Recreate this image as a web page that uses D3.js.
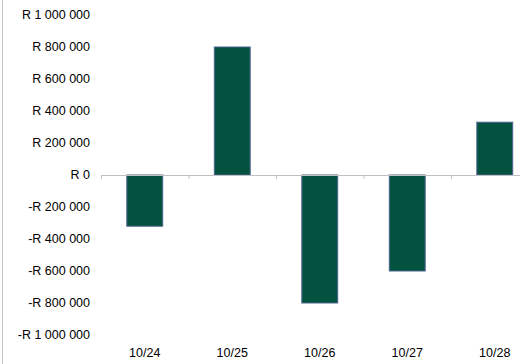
<!DOCTYPE html>
<html>
<head>
<meta charset="utf-8">
<script src="https://cdn.jsdelivr.net/npm/d3@7"></script>
<style>
  body { margin: 0; background: #fff; }
  text { font-family: "Liberation Sans", Arial, sans-serif; fill: #000; }
</style>
</head>
<body>
<script>
const categories = ['10/24', '10/25', '10/26', '10/27', '10/28'];
const values = [-320000, 800000, -800000, -600000, 330000];
const yTicks = [1000000, 800000, 600000, 400000, 200000, 0, -200000, -400000, -600000, -800000, -1000000];

const width = 520;
const height = 364;

const svg = d3.select('body').append('svg')
  .attr('width', width)
  .attr('height', height);

// left frame edge
svg.append('line')
  .attr('x1', 2.5).attr('x2', 2.5)
  .attr('y1', 0).attr('y2', height)
  .attr('stroke', '#c6c6c6');

const x = d3.scaleBand()
  .domain(categories)
  .range([101, 538.5])
  .paddingInner(0.59)
  .paddingOuter(0.295);

const y = d3.scaleLinear()
  .domain([-1000000, 1000000])
  .range([335, 15]);

// format like "R 800 000" / "-R 200 000"
const fmt = v => {
  const s = d3.format(',')(Math.abs(v)).replace(/,/g, ' ');
  return (v < 0 ? '-R ' : 'R ') + s;
};

svg.append('g')
  .selectAll('text')
  .data(yTicks)
  .enter().append('text')
  .attr('x', 90)
  .attr('y', d => y(d))
  .attr('dy', '0.35em')
  .attr('text-anchor', 'end')
  .attr('font-size', 12.5)
  .text(fmt);

// bars
svg.append('g')
  .selectAll('rect')
  .data(values)
  .enter().append('rect')
  .attr('x', (d, i) => x(categories[i]))
  .attr('width', x.bandwidth())
  .attr('y', d => y(Math.max(0, d)))
  .attr('height', d => Math.abs(y(d) - y(0)))
  .attr('fill', '#03523f')
  .attr('stroke', '#4d6491')
  .attr('stroke-width', 1);

// zero axis line with category separators
const step = x.step();
const axis = svg.append('g').attr('stroke', '#c0c0c0');
axis.append('line')
  .attr('x1', 101).attr('x2', width)
  .attr('y1', y(0) + 0.5).attr('y2', y(0) + 0.5);
axis.selectAll('.sep')
  .data(d3.range(categories.length + 1))
  .enter().append('line')
  .attr('x1', i => 101.5 + i * step)
  .attr('x2', i => 101.5 + i * step)
  .attr('y1', y(0))
  .attr('y2', y(0) + 4);

// category labels at the bottom
svg.append('g')
  .selectAll('text')
  .data(categories)
  .enter().append('text')
  .attr('x', d => x(d) + x.bandwidth() / 2)
  .attr('y', 353)
  .attr('dy', '0.35em')
  .attr('text-anchor', 'middle')
  .attr('font-size', 12.5)
  .text(d => d);
</script>
</body>
</html>
